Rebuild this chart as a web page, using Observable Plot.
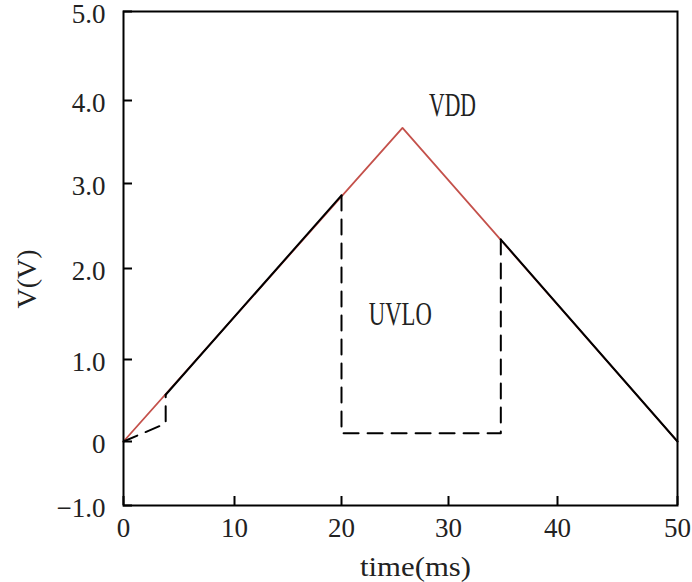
<!DOCTYPE html>
<html><head><meta charset="utf-8">
<script src="https://cdn.jsdelivr.net/npm/d3@7"></script>
<script src="https://cdn.jsdelivr.net/npm/@observablehq/plot@0.6"></script>
<style>body{margin:0;background:#fff}</style>
</head><body><div id="chart"></div>
<script>
// tick values
const xTicks = [0, 10, 20, 30, 40, 50];
const yTicks = [-1, 0, 1, 2, 3, 4, 5];
const yTickLabels = ["−1.0", "0", "1.0", "2.0", "3.0", "4.0", "5.0"];

// VDD ramp (red)
const vddTime = [0, 25.7, 50];
const vddVolt = [0, 3.67, 0];

// output following VDD (black solid segments)
const outSeg = ["a", "a", "b", "b"];
const outTime = [3.8, 20, 34.8, 50];
const outVolt = [0.57, 2.86, 2.34, 0];

// UVLO (dashed)
const uvloSeg = ["a", "a", "a", "b", "b", "b", "b"];
const uvloTime = [0, 3.8, 3.8, 20, 20, 34.8, 34.8];
const uvloVolt = [0, 0.22, 0.57, 2.86, 0.10, 0.10, 2.34];

const vdd = vddTime.map((t, i) => ({t, v: vddVolt[i]}));
const out = outTime.map((t, i) => ({t, v: outVolt[i], s: outSeg[i]}));
const uvlo = uvloTime.map((t, i) => ({t, v: uvloVolt[i], s: uvloSeg[i]}));

const font = "Liberation Serif, DejaVu Serif, serif";
const red = "#c4514b";

// the original axes are drawn with uneven tick spacing: piecewise-linear interpolators
const xKnots = [0, 0.2, 0.4, 0.6, 0.8, 1];
const xPixels = [123, 234, 341, 448, 557, 677];
const yKnots = [0, 1/6, 2/6, 3/6, 4/6, 5/6, 1];
const yPixels = [505, 441, 359, 268, 183, 100, 11];
const xInterp = () => d3.scaleLinear().domain(xKnots).range(xPixels);
const yInterp = () => d3.scaleLinear().domain(yKnots).range(yPixels);

const chart = Plot.plot({
  width: 692,
  height: 582,
  marginLeft: 123,
  marginRight: 15,
  marginTop: 11,
  marginBottom: 77,
  style: {fontFamily: font, background: "#fff", color: "#222"},
  x: {type: "linear", domain: [0, 50], range: [123, 677], interpolate: (a, b) => xInterp()},
  y: {type: "linear", domain: [-1, 5], range: [505, 11], interpolate: (a, b) => yInterp()},
  marks: [
    Plot.line(vdd, {x: "t", y: "v", stroke: red, strokeWidth: 1.8}),
    Plot.line(out, {x: "t", y: "v", z: "s", stroke: "#000", strokeWidth: 2}),
    Plot.line(uvlo, {x: "t", y: "v", z: "s", stroke: "#000", strokeWidth: 2, strokeDasharray: "15,9"}),
    Plot.frame({stroke: "#000", strokeWidth: 2}),
    // inward ticks
    Plot.axisY({ticks: yTicks, tickSize: 9, dx: 9, text: null, stroke: "#000", strokeWidth: 2, label: null}),
    Plot.axisX({ticks: xTicks, tickSize: 9, dy: -9, text: null, stroke: "#000", strokeWidth: 2, label: null}),
    // tick labels
    Plot.axisY({ticks: yTicks, tickSize: 0, tickPadding: 18, dy: 3, tickFormat: d => yTickLabels[yTicks.indexOf(d)], fontSize: 27, fill: "#222", label: null}),
    Plot.axisX({ticks: xTicks, tickSize: 0, tickPadding: 12, tickFormat: d => String(d), fontSize: 27, fill: "#222", label: null}),
    // axis titles
    Plot.text(["time(ms)"], {frameAnchor: "bottom", dx: 15, dy: 70, fontSize: 28, fill: "#222", text: d => d}),
    Plot.text(["V(V)"], {frameAnchor: "left", dx: -96, dy: 50, rotate: -90, fontSize: 28, fill: "#222", text: d => d}),
    // annotations
    Plot.text(["VDD"], {x: 30.37, y: 3.94, fontSize: 34, fill: "#222", text: d => d}),
    Plot.text(["UVLO"], {x: 25.5, y: 1.5, fontSize: 34, fill: "#222", text: d => d})
  ]
});

const lens = {"VDD": 47, "UVLO": 63, "time(ms)": 111};
d3.select(chart).selectAll("text").each(function() {
  const t = this.textContent;
  if (lens[t]) {
    this.setAttribute("textLength", lens[t]);
    this.setAttribute("lengthAdjust", "spacingAndGlyphs");
  }
});

document.getElementById("chart").appendChild(chart);
</script>
</body></html>
